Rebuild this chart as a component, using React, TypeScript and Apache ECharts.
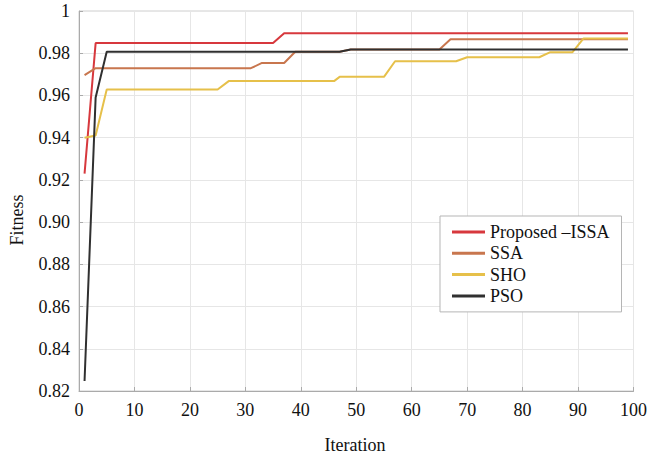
import React, { useEffect, useRef } from "react";
import * as echarts from "echarts";

const seriesNames = ["Proposed –ISSA", "SSA", "SHO", "PSO"];
const seriesColors = ["#d7383d", "#c8764e", "#e6c04a", "#303030"];

// [iteration, fitness]
const issaData: [number, number][] = [
  [1, 0.923], [3, 0.9848], [35, 0.9848], [37, 0.9895], [99, 0.9895],
];
const ssaData: [number, number][] = [
  [1, 0.9696], [3, 0.9729], [31, 0.9729], [33, 0.9754], [37, 0.9754],
  [39, 0.9807], [47, 0.9807], [49, 0.9818], [65, 0.9818], [67, 0.9866], [99, 0.9866],
];
const shoData: [number, number][] = [
  [1, 0.94], [3, 0.941], [5, 0.9628], [25, 0.9628], [27, 0.9668], [46, 0.9668],
  [47, 0.9688], [55, 0.9688], [57, 0.9762], [68, 0.9762], [70, 0.9781], [83, 0.9781],
  [85, 0.9805], [89, 0.9805], [91, 0.987], [99, 0.987],
];
const psoData: [number, number][] = [
  [1, 0.8247], [3, 0.959], [5, 0.9807], [47, 0.9807], [49, 0.9818], [99, 0.9818],
];

const xAxisTitle = "Iteration";
const yAxisTitle = "Fitness";

const FONT = "Liberation Serif";

export default function App() {
  const ref = useRef<HTMLDivElement>(null);
  useEffect(() => {
    if (!ref.current) return;
    const chart = echarts.init(ref.current, undefined, { renderer: "svg" });
    const allData = [issaData, ssaData, shoData, psoData];
    chart.setOption({
      animation: false,
      backgroundColor: "#ffffff",
      textStyle: { fontFamily: FONT },
      grid: {
        left: 79, right: 13, top: 11, bottom: 65,
        show: true, borderColor: "#cfcfcf", borderWidth: 1,
      },
      xAxis: {
        type: "value", min: 0, max: 100, interval: 10,
        axisLine: { show: true, lineStyle: { color: "#aaaaaa", width: 1 } },
        axisTick: { show: true, inside: true, length: 4, lineStyle: { color: "#aaaaaa" } },
        splitLine: { show: true, lineStyle: { color: "#e6e6e6", width: 1 } },
        axisLabel: { color: "#111", fontFamily: FONT, fontSize: 18, margin: 10 },
      },
      yAxis: {
        type: "value", min: 0.82, max: 1, interval: 0.02,
        axisLine: { show: true, lineStyle: { color: "#aaaaaa", width: 1 } },
        axisTick: { show: true, inside: true, length: 4, lineStyle: { color: "#aaaaaa" } },
        splitLine: { show: true, lineStyle: { color: "#e6e6e6", width: 1 } },
        axisLabel: {
          color: "#111", fontFamily: FONT, fontSize: 18, margin: 9,
          formatter: (v: number) => (Math.abs(v - 1) < 1e-9 ? "1" : v.toFixed(2)),
        },
      },
      legend: {
        orient: "vertical",
        left: 440, top: 216,
        backgroundColor: "#ffffff",
        borderColor: "#b5b5b5", borderWidth: 1, borderRadius: 0,
        padding: [7, 12, 7, 12],
        itemWidth: 33, itemHeight: 3, itemGap: 3.3,
        icon: "rect",
        textStyle: { fontFamily: FONT, fontSize: 18, color: "#111", lineHeight: 18 },
        data: seriesNames,
      },
      graphic: [
        {
          type: "text", x: 17, y: 220, rotation: Math.PI / 2,
          style: {
            text: yAxisTitle, fontFamily: FONT, fontSize: 18, fill: "#111",
            textAlign: "center", textVerticalAlign: "middle",
          },
        },
        {
          type: "text", x: 355, y: 445,
          style: {
            text: xAxisTitle, fontFamily: FONT, fontSize: 18, fill: "#111",
            textAlign: "center", textVerticalAlign: "middle",
          },
        },
      ],
      series: seriesNames.map((name, i) => ({
        name, type: "line", data: allData[i], symbol: "none",
        color: seriesColors[i],
        lineStyle: { width: 2, color: seriesColors[i] },
      })),
    });
    return () => chart.dispose();
  }, []);
  return (
    <div
      ref={ref}
      style={{ position: "fixed", left: 0, top: 0, width: 650, height: 456 }}
    />
  );
}
